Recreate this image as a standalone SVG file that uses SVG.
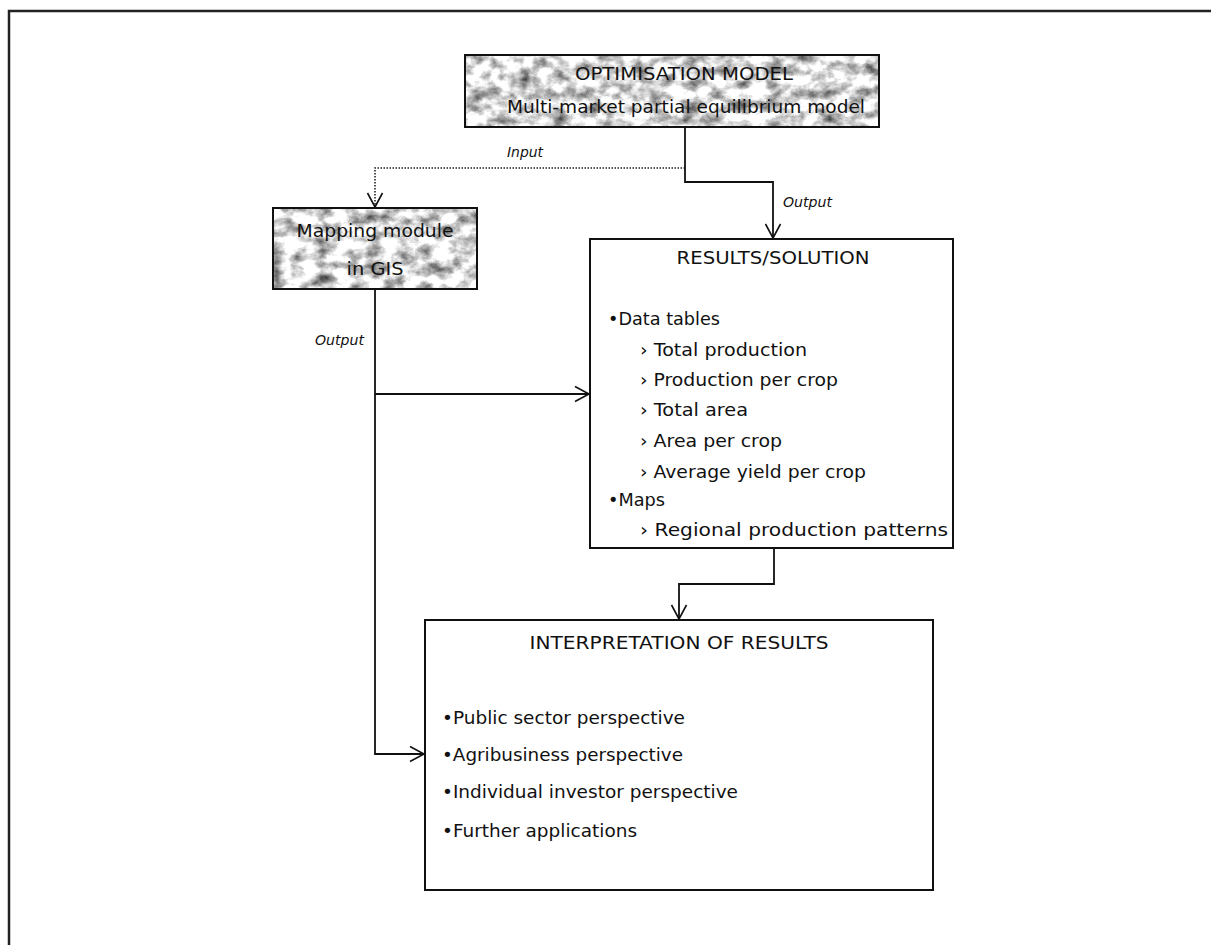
<svg xmlns="http://www.w3.org/2000/svg" width="1211" height="945" viewBox="0 0 1211 945">
<defs>
<style>
.t{font-family:"DejaVu Sans",Verdana,sans-serif;font-size:18.5px;fill:#111}
.i{font-family:"DejaVu Sans",Verdana,sans-serif;font-size:13.5px;font-style:italic;fill:#111}
.box{fill:#fff;stroke:#111;stroke-width:2}
.tex{stroke:#111;stroke-width:2}
.ln{fill:none;stroke:#111;stroke-width:1.8}
.dot{fill:none;stroke:#222;stroke-width:1.6;stroke-dasharray:1.5 1.5}
</style>
<filter id="marble" x="0" y="0" width="1" height="1" color-interpolation-filters="sRGB">
<feTurbulence type="fractalNoise" baseFrequency="0.06 0.08" numOctaves="6" seed="11" result="n"/>
<feColorMatrix in="n" type="matrix" values="1.4 0 0 0 0.15  1.4 0 0 0 0.15  1.4 0 0 0 0.15  0 0 0 0 1" result="g"/>
<feComposite in="g" in2="SourceGraphic" operator="in"/>
</filter>
<marker id="arr" markerUnits="userSpaceOnUse" markerWidth="18" markerHeight="18" refX="15" refY="9" orient="auto">
<path d="M1,1.5 L15,9 L1,16.5" fill="none" stroke="#111" stroke-width="1.6"/>
</marker>
</defs>
<rect width="1211" height="945" fill="#fff"/>
<path d="M9,945 V11 H1211" fill="none" stroke="#222" stroke-width="2.5"/>

<g id="connectors">
<path class="dot" d="M685,168 H375 V207" marker-end="url(#arr)"/>
<path class="ln" d="M685,127 V182 H773 V238" marker-end="url(#arr)"/>
<path class="ln" d="M375,289 V754 H424" marker-end="url(#arr)"/>
<path class="ln" d="M375,394 H589" marker-end="url(#arr)"/>
<path class="ln" d="M774,548 V584 H679 V619" marker-end="url(#arr)"/>
<text class="i" x="507" y="157" textLength="36" lengthAdjust="spacingAndGlyphs">Input</text>
<text class="i" x="783" y="207" textLength="49" lengthAdjust="spacingAndGlyphs">Output</text>
<text class="i" x="315" y="345" textLength="49" lengthAdjust="spacingAndGlyphs">Output</text>
</g>

<g id="optimisation-model">
<rect x="465" y="55" width="414" height="72" fill="#ccc" filter="url(#marble)"/>
<rect x="465" y="55" width="414" height="72" fill="none" class="tex"/>
<text class="t" x="684" y="80" text-anchor="middle" textLength="218" lengthAdjust="spacingAndGlyphs">OPTIMISATION MODEL</text>
<text class="t" x="686" y="113" text-anchor="middle" textLength="358" lengthAdjust="spacingAndGlyphs">Multi-market partial equilibrium model</text>
</g>

<g id="mapping-module">
<rect x="273" y="208" width="204" height="81" fill="#ccc" filter="url(#marble)"/>
<rect x="273" y="208" width="204" height="81" fill="none" class="tex"/>
<text class="t" x="375" y="237" text-anchor="middle" textLength="157" lengthAdjust="spacingAndGlyphs">Mapping module</text>
<text class="t" x="375" y="275" text-anchor="middle" textLength="57" lengthAdjust="spacingAndGlyphs">in GIS</text>
</g>

<g id="results">
<rect class="box" x="590" y="239" width="363" height="309"/>
<text class="t" x="773" y="264" text-anchor="middle" textLength="193" lengthAdjust="spacingAndGlyphs">RESULTS/SOLUTION</text>
<text class="t" x="608" y="325" textLength="112" lengthAdjust="spacingAndGlyphs">•Data tables</text>
<text class="t" x="640" y="356" textLength="167" lengthAdjust="spacingAndGlyphs">› Total production</text>
<text class="t" x="640" y="386" textLength="198" lengthAdjust="spacingAndGlyphs">› Production per crop</text>
<text class="t" x="640" y="416" textLength="108" lengthAdjust="spacingAndGlyphs">› Total area</text>
<text class="t" x="640" y="447" textLength="142" lengthAdjust="spacingAndGlyphs">› Area per crop</text>
<text class="t" x="640" y="478" textLength="226" lengthAdjust="spacingAndGlyphs">› Average yield per crop</text>
<text class="t" x="608" y="506" textLength="57" lengthAdjust="spacingAndGlyphs">•Maps</text>
<text class="t" x="640" y="536" textLength="308" lengthAdjust="spacingAndGlyphs">› Regional production patterns</text>
</g>

<g id="interpretation">
<rect class="box" x="425" y="620" width="508" height="270"/>
<text class="t" x="679" y="649" text-anchor="middle" textLength="299" lengthAdjust="spacingAndGlyphs">INTERPRETATION OF RESULTS</text>
<text class="t" x="442" y="724" textLength="243" lengthAdjust="spacingAndGlyphs">•Public sector perspective</text>
<text class="t" x="442" y="761" textLength="241" lengthAdjust="spacingAndGlyphs">•Agribusiness perspective</text>
<text class="t" x="442" y="798" textLength="296" lengthAdjust="spacingAndGlyphs">•Individual investor perspective</text>
<text class="t" x="442" y="837" textLength="195" lengthAdjust="spacingAndGlyphs">•Further applications</text>
</g>
</svg>
